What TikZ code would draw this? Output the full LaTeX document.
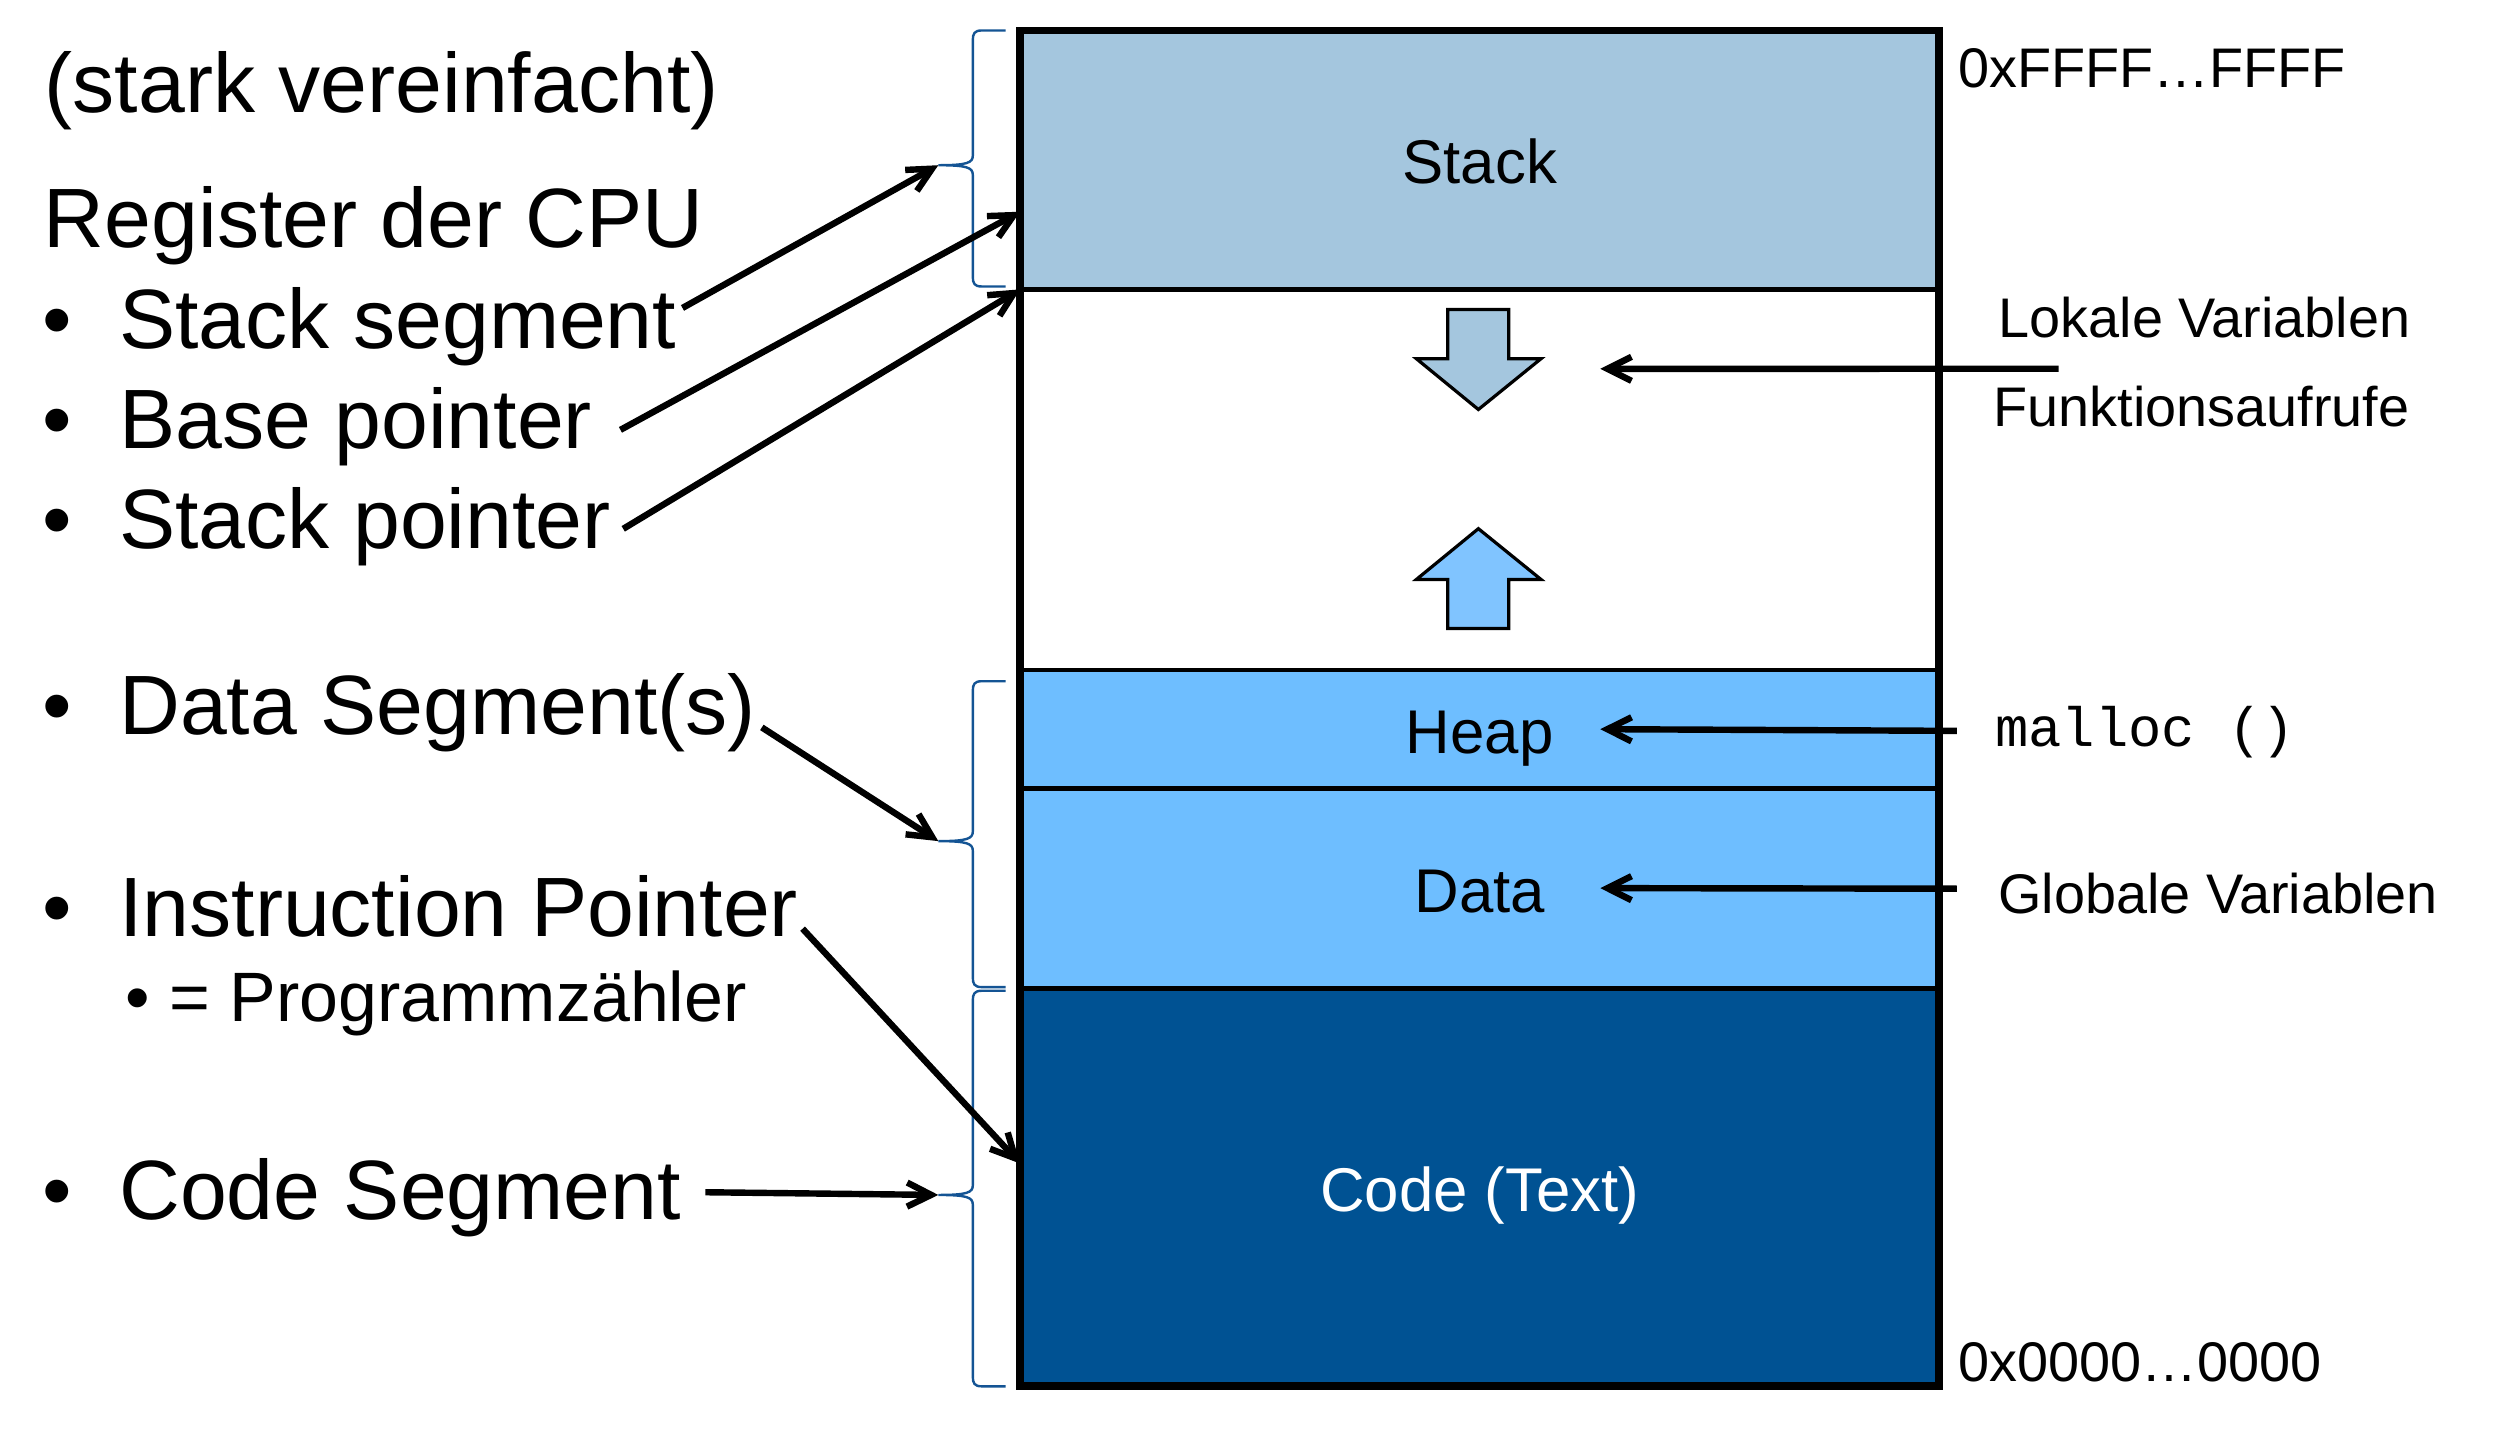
\documentclass[tikz,border=0pt]{standalone}
\usepackage{fontspec}
\setmainfont{Liberation Sans}
\setmonofont{Liberation Mono}
\usetikzlibrary{arrows.meta,calc}

\definecolor{stackblue}{RGB}{164,198,222}
\definecolor{heapblue}{RGB}{110,190,255}
\definecolor{upblue}{RGB}{128,196,255}
\definecolor{codeblue}{RGB}{0,82,147}
\definecolor{bracecol}{RGB}{20,84,148}

\tikzset{every picture/.style={line width=0.75pt}}
\tikzset{
  seg/.style={draw=black, line width=3pt, minimum width=573pt, inner sep=0pt, outer sep=0pt,
    text height=30pt, text depth=0pt, font=\fontsize{38.5pt}{44pt}\selectfont},
  ptr/.style={line width=4pt, -{Straight Barb[length=15pt,width=15pt]}},
  brc/.style={draw=bracecol, line width=1.5pt},
  blockarr/.style={draw=black, line width=2pt, line join=miter},
  bigtxt/.style={anchor=base west, inner sep=0pt, font=\fontsize{52.5pt}{60pt}\selectfont},
  subtxt/.style={anchor=base west, inner sep=0pt, font=\fontsize{43.6pt}{50pt}\selectfont},
  sidetxt/.style={anchor=base west, inner sep=0pt, font=\fontsize{34.8pt}{40pt}\selectfont},
}

\begin{document}
\begin{tikzpicture}[x=1pt,y=1pt,yscale=-1,xscale=1]
\path (0,0) rectangle (1568,903);

%Shape: Rectangle [memory segments]
\draw (922.5,99.7) node (stack) [seg, fill=stackblue, minimum height=161.4pt] {Stack};
\draw (922.5,299.05) node (free) [seg, fill=white, minimum height=237.3pt] {};
\draw (922.5,454.6) node (heap) [seg, fill=heapblue, minimum height=73.8pt] {Heap};
\draw (922.5,554) node (data) [seg, fill=heapblue, minimum height=125pt] {Data};
\draw (922.5,740.25) node (code) [seg, fill=codeblue, minimum height=247.5pt, text=white] {Code (Text)};
%Shape: Rectangle [outer frame]
\draw [line width=4.7pt] (stack.north west) rectangle (code.south east);

%Shape: Down Arrow
\draw [blockarr, fill=stackblue] (902.6,193) -- (940.6,193) -- (940.6,223.6) -- (960.8,223.6) -- (921.7,255.3) -- (883,223.6) -- (902.6,223.6) -- cycle;
%Shape: Up Arrow
\draw [blockarr, fill=upblue] (921.7,329.6) -- (960.8,361.3) -- (940.6,361.3) -- (940.6,391.8) -- (902.6,391.8) -- (902.6,361.3) -- (883,361.3) -- cycle;

%Shape: Brace [stack]
\draw [brc] (627,19) -- (612,19) .. controls (607.5,19) and (606.5,21) .. (606.5,25) -- (606.5,97) .. controls (606.5,101.5) and (603,103) .. (585,103) .. controls (603,103) and (606.5,104.5) .. (606.5,109) -- (606.5,172.6) .. controls (606.5,176.6) and (607.5,178.6) .. (612,178.6) -- (627,178.6) ;
\coordinate (brace1) at (585,103);
%Shape: Brace [heap and data]
\draw [brc] (627,424.7) -- (612,424.7) .. controls (607.5,424.7) and (606.5,426.7) .. (606.5,430.7) -- (606.5,518.4) .. controls (606.5,522.9) and (603,524.4) .. (585,524.4) .. controls (603,524.4) and (606.5,525.9) .. (606.5,530.4) -- (606.5,609.4) .. controls (606.5,613.4) and (607.5,615.4) .. (612,615.4) -- (627,615.4) ;
\coordinate (brace2) at (585,524.4);
%Shape: Brace [code]
\draw [brc] (627,617.7) -- (612,617.7) .. controls (607.5,617.7) and (606.5,619.7) .. (606.5,623.7) -- (606.5,739) .. controls (606.5,743.5) and (603,745) .. (585,745) .. controls (603,745) and (606.5,746.5) .. (606.5,751) -- (606.5,858.3) .. controls (606.5,862.3) and (607.5,864.3) .. (612,864.3) -- (627,864.3) ;
\coordinate (brace3) at (585,745);

% Text Node
\draw (27.5,70.3) node (title) [bigtxt] {(stark vereinfacht)};
% Text Node
\draw (27,154.4) node (regs) [bigtxt] {Register der CPU};
% Text Node
\draw (26,217) node (ss) [bigtxt] {\makebox[48pt][l]{•}Stack segment};
% Text Node
\draw (26,279.5) node (bp) [bigtxt] {\makebox[48pt][l]{•}Base pointer};
% Text Node
\draw (26,341.7) node (sp) [bigtxt] {\makebox[48pt][l]{•}Stack pointer};
% Text Node
\draw (26,458) node (ds) [bigtxt] {\makebox[48pt][l]{•}Data Segment(s)};
% Text Node
\draw (26,583.7) node (ip) [bigtxt] {\makebox[48pt][l]{•}Instruction Pointer};
% Text Node
\draw (78,636.7) node (pz) [subtxt] {• = Programmzähler};
% Text Node
\draw (26,760.6) node (cs) [bigtxt] {\makebox[48pt][l]{•}Code Segment};

% Text Node
\draw (1220.5,54.7) node (hi) [sidetxt] {0xFFFF…FFFF};
% Text Node
\draw (1220.5,861.4) node (lo) [sidetxt] {0x0000…0000};
% Text Node
\draw (1245.8,210.3) node (lokal) [sidetxt] {Lokale Variablen};
% Text Node
\draw (1242.6,266.2) node (funk) [sidetxt] {Funktionsaufrufe};
% Text Node
\draw (1243.5,465.6) node (malloc) [sidetxt, font=\ttfamily\fontsize{34.6pt}{40pt}\selectfont] {malloc ()};
% Text Node
\draw (1245.5,569.3) node (glob) [sidetxt] {Globale Variablen};

%Straight Lines [register arrows]
\draw [ptr] ($(ss.base east)+(3.5,-25)$) -- (brace1);
\draw [ptr] ($(bp.base east)+(17.3,-11.5)$) -- ($(stack.south west)!0.3!(stack.north west)$);
\draw [ptr] ($(sp.base east)+(7.4,-12)$) -- (stack.south west);
\draw [ptr] ($(ds.base east)+(3.4,-4.5)$) -- (brace2);
\draw [ptr] ($(ip.base east)+(2.5,-4.7)$) -- ($(code.north west)!0.44!(code.south west)$);
\draw [ptr] ($(cs.base east)+(14.8,-17.3)$) -- (brace3);

%Straight Lines [usage arrows]
\coordinate (lvin) at (1283.5,229.9);
\draw [ptr] (lvin) -- ($(free.center)+(75.2,-69.1)$);
\draw [ptr] ($(malloc.west)+(-23.5,-1)$) -- ($(heap.center)+(75.2,0)$);
\draw [ptr] ($(glob.west)+(-25.5,-2.8)$) -- ($(data.center)+(75.2,-0.3)$);
\end{tikzpicture}
\end{document}
